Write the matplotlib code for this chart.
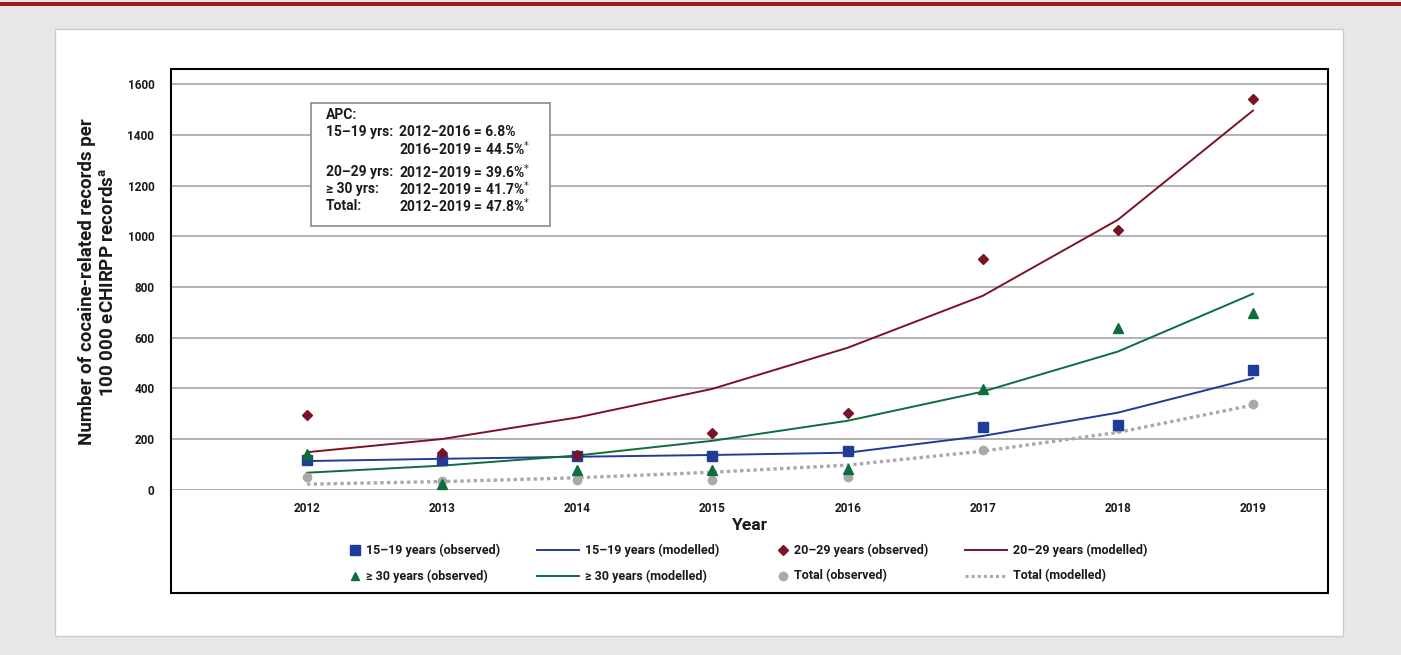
import matplotlib.pyplot as plt
from matplotlib.lines import Line2D
from matplotlib.patches import Rectangle
from matplotlib.transforms import Affine2D

plt.rcParams['font.family'] = ['Roboto', 'DejaVu Sans']

years = [2012, 2013, 2014, 2015, 2016, 2017, 2018, 2019]

# cocaine-related records per 100 000 eCHIRPP records
teen_obs = [117, 118, 133, 133, 154, 249, 255, 472]
teen_mod = [113, 122, 130, 137, 146, 212, 304, 440]
young_obs = [295, 144, 138, 225, 304, 910, 1024, 1543]
young_mod = [148, 200, 285, 398, 560, 765, 1065, 1496]
adult_obs = [140, 21, 78, 78, 82, 397, 637, 696]
adult_mod = [67, 95, 135, 193, 272, 387, 545, 773]
total_obs = [49, 34, 37, 37, 49, 157, 242, 339]
total_mod = [22, 32, 47, 69, 97, 152, 226, 334]

yticks = [0, 200, 400, 600, 800, 1000, 1200, 1400, 1600]

apc_labels = ["15\u201319 yrs:", "", "20\u201329 yrs:", "\u2265 30 yrs:", "Total:"]
apc_values = ["2012\u22122016 = 6.8%", "2016\u22122019 = 44.5%$^{*}$",
              "2012\u22122019 = 39.6%$^{*}$", "2012\u22122019 = 41.7%$^{*}$",
              "2012\u22122019 = 47.8%$^{*}$"]

BLUE = "#1f3c98"
RED = "#7b1325"
GREEN = "#0b6e3c"
GREY = "#a9a9a9"
INK = "#1a1a1a"

W, H = 1401, 655
fig = plt.figure(figsize=(W / 100, H / 100), dpi=100, facecolor="#e6e7e6")

# pixel transform with origin at top-left
px = Affine2D().scale(1 / W, -1 / H).translate(0, 1) + fig.transFigure

fig.add_artist(Rectangle((0, 2), W, 4, transform=px, color="#9b1b1e", lw=0,
                         zorder=-2))
fig.add_artist(Rectangle((55, 29), 1288, 607, transform=px, facecolor="white",
                         edgecolor="#cccccc", lw=1, zorder=-2))
fig.add_artist(Rectangle((171, 69), 1157, 524, transform=px, facecolor="none",
                         edgecolor="black", lw=1.5, zorder=5))

ax = fig.add_axes([171 / W, 1 - 489.7 / H, 1157 / W, (489.7 - 69) / H])
ax.set_zorder(1)
ax.set_facecolor("none")
for s in ax.spines.values():
    s.set_visible(False)
ax.set_xlim(2012 - 136 / 135.1, 2019 + 75 / 135.1)
ax.set_ylim(0, 1660)

for v in yticks:
    ax.axhline(v, color="#b3b3b3", lw=1.4, zorder=0)

ax.plot(years, teen_mod, color=BLUE, lw=1.4, zorder=2)
ax.plot(years, young_mod, color=RED, lw=1.4, zorder=2)
ax.plot(years, adult_mod, color=GREEN, lw=1.4, zorder=2)
ax.plot(years, total_mod, color=GREY, lw=2.4, ls=(0, (1, 1)), zorder=2)

ax.plot(years, total_obs, "o", color=GREY, ms=6, clip_on=False, zorder=3)
ax.plot(years, teen_obs, "s", color=BLUE, ms=7.5, clip_on=False, zorder=3)
ax.plot(years, young_obs, "D", color=RED, ms=5, clip_on=False, zorder=4)
ax.plot(years, adult_obs, "^", color=GREEN, ms=6.5, clip_on=False, zorder=4)

ax.set_xticks(years)
ax.set_xticklabels([str(y) for y in years], fontsize=8.5, fontweight="bold",
                   color=INK)
ax.set_yticks(yticks)
ax.set_yticklabels([str(v) for v in yticks], fontsize=8.5, fontweight="bold",
                   color=INK)
ax.tick_params(axis="x", length=0, pad=9)
ax.tick_params(axis="y", length=0, pad=12)
ax.set_xlabel("Year", fontsize=12.5, fontweight="bold", labelpad=2, color=INK)

fig.text(98 / W, 1 - 282 / H,
         "Number of cocaine-related records per\n100 000 eCHIRPP records$^{\\mathregular{a}}$",
         rotation=90, ha="center", va="center", fontsize=13.5,
         fontweight="bold", linespacing=1.2, color=INK)

# APC annotation box
fig.add_artist(Rectangle((311, 103), 239, 123, transform=px, facecolor="white",
                         edgecolor="#8a8a8a", lw=1.2, zorder=6))
fig.text(326, 115, "APC:", transform=px, fontsize=10, fontweight="bold",
         va="center", zorder=7, color=INK)
rows_y = [132, 149, 172, 189, 206]
for lab, val, yy in zip(apc_labels, apc_values, rows_y):
    fig.text(326, yy, lab, transform=px, fontsize=10, fontweight="bold",
             va="center", zorder=7, color=INK)
    fig.text(399, yy, val, transform=px, fontsize=10, fontweight="bold",
             va="center", zorder=7, color=INK)

# legend entries, two rows by four columns
entries = [
    (355, 550, dict(marker="s", color=BLUE, ms=7), "15\u201319 years (observed)"),
    (537, 550, dict(color=BLUE, lw=1.4), "15\u201319 years (modelled)"),
    (783, 550, dict(marker="D", color=RED, ms=5), "20\u201329 years (observed)"),
    (965, 550, dict(color=RED, lw=1.4), "20\u201329 years (modelled)"),
    (355, 576, dict(marker="^", color=GREEN, ms=6), "\u2265 30 years (observed)"),
    (537, 576, dict(color=GREEN, lw=1.4), "\u2265 30 years (modelled)"),
    (783, 576, dict(marker="o", color=GREY, ms=6), "Total (observed)"),
    (965, 576, dict(color=GREY, lw=2.2, ls=(0, (1, 1))), "Total (modelled)"),
]
for x0, y0, style, label in entries:
    if "marker" in style:
        fig.add_artist(Line2D([x0], [y0], transform=px, ls="none", **style))
        tx = x0 + 11
    else:
        fig.add_artist(Line2D([x0, x0 + 42], [y0, y0], transform=px, **style))
        tx = x0 + 48
    fig.text(tx, y0, label, transform=px, fontsize=9, fontweight="bold",
             va="center", color=INK)

fig.savefig("out.png", dpi=100, facecolor=fig.get_facecolor())
